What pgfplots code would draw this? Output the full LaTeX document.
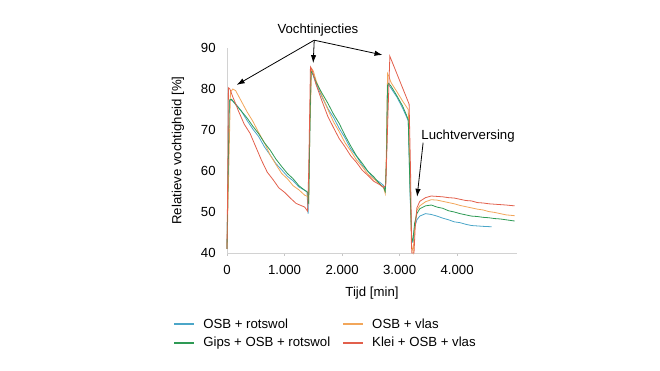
\documentclass[border=0pt]{standalone}
\usepackage{pgfplots}
\pgfplotsset{compat=1.18}
\usepackage{fontspec}
\setmainfont{Liberation Sans}
\usetikzlibrary{arrows.meta}
\definecolor{cblue}{HTML}{4BA6C8}
\definecolor{cgreen}{HTML}{2E9A55}
\definecolor{corange}{HTML}{F2A65A}
\definecolor{cred}{HTML}{E2604C}
\newcommand\lfont{\fontsize{9.9}{11.5}\selectfont}
\begin{document}
\begin{tikzpicture}
\path[use as bounding box] (0,0) rectangle (495pt,278.25pt);
\begin{axis}[
  at={(170.25pt,88.5pt)}, anchor=south west,
  scale only axis, width=217.5pt, height=153.75pt,
  xmin=0, xmax=5040, ymin=40, ymax=90,
  axis x line=bottom, axis y line=left,
  axis line style={gray!35, -},
  xtick={0,1000,2000,3000,4000},
  xticklabels={0,1.000,2.000,3.000,4.000},
  ytick={40,50,60,70,80,90},
  tick align=outside,
  major tick length=2pt,
  xtick style={gray!45},
  ytick style={draw=none},
  /pgf/number format/assume math mode=true,
  tick label style={font=\lfont},
  xticklabel style={yshift=-4pt},
  yticklabel style={xshift=-3pt},
  clip=false,
  legend columns=2,
  legend cell align=left,
  legend style={draw=none, fill=none, inner sep=0pt,
    at={(axis description cs:-0.186,-0.305)}, anchor=north west,
    font=\lfont,
    row sep=1.2pt,
    /tikz/every even column/.append style={column sep=7pt}},
  legend image code/.code={\draw[#1, line width=1.4pt] (0pt,0pt) -- (15pt,0pt); \path (19.5pt,0pt);},
  every axis plot/.append style={line width=0.6pt},
]
% OSB + rotswol
\addplot[cblue] coordinates {
(0,41) (20,60) (40,77.0) (80,77.3) (150,76.4) (250,74.6) (350,72.3) (450,70.2) (550,68.4) (650,65.9) (750,63.9) (850,61.8) (950,60.3) (1050,58.7) (1150,57.6) (1250,56.1) (1350,55.3) (1390,55.0) (1410,49.6) (1440,70) (1460,84.0) (1490,83.6) (1550,81.2) (1650,78.1) (1750,75.3) (1850,73.1) (1950,70.4) (2050,68.1) (2150,65.4) (2250,63.6) (2350,61.4) (2450,59.9) (2550,58.2) (2650,57.3) (2720,56.5) (2750,55.3) (2770,62) (2790,80.6) (2810,81.0) (2850,80.2) (2950,78.1) (3050,75.4) (3120,73.2) (3150,72.2) (3180,55) (3210,43) (3230,42.6) (3260,46.2) (3300,48.1) (3350,49.0) (3450,49.6) (3550,49.4) (3650,49.0) (3750,48.5) (3850,48.1) (3950,47.6) (4050,47.4) (4150,47.0) (4250,46.7) (4350,46.6) (4450,46.5) (4600,46.4)
};
\addlegendentry{OSB + rotswol}
% OSB + vlas
\addplot[corange] coordinates {
(0,41) (30,60) (60,79.2) (100,80.0) (150,79.6) (250,77.0) (350,74.4) (450,72.1) (550,69.4) (650,66.9) (750,63.9) (850,61.6) (950,59.4) (1050,58.1) (1150,56.4) (1250,55.4) (1350,54.1) (1400,53.8) (1420,52.5) (1440,70) (1470,85.0) (1500,84.4) (1550,82.0) (1650,78.4) (1750,75.1) (1850,72.0) (1950,69.6) (2050,66.9) (2150,64.9) (2250,62.7) (2350,61.1) (2450,59.2) (2550,58.1) (2650,56.9) (2720,56.0) (2750,54.5) (2770,65) (2790,83.8) (2810,83.2) (2850,81.6) (2950,79.4) (3050,77.1) (3150,75.0) (3180,60) (3205,42) (3235,40.2) (3265,47) (3300,50.4) (3350,51.5) (3450,52.5) (3550,53.0) (3650,52.9) (3750,52.6) (3850,52.3) (3950,52.0) (4050,51.6) (4150,51.3) (4250,51.0) (4350,50.7) (4450,50.5) (4550,50.1) (4650,49.9) (4750,49.6) (4850,49.3) (5000,49.1)
};
\addlegendentry{OSB + vlas}
% Gips + OSB + rotswol
\addplot[cgreen] coordinates {
(0,41) (20,60) (40,77.3) (80,77.5) (150,76.2) (250,74.6) (350,72.9) (450,70.9) (550,69.1) (650,66.9) (750,65.1) (850,62.9) (950,61.1) (1050,59.4) (1150,58.1) (1250,56.4) (1350,55.3) (1400,54.8) (1420,52) (1440,70) (1460,84.3) (1490,83.8) (1550,81.6) (1650,79.0) (1750,76.6) (1850,73.9) (1950,71.6) (2050,68.7) (2150,66.1) (2250,63.7) (2350,61.9) (2450,59.9) (2550,58.6) (2650,56.9) (2720,56.0) (2750,55.0) (2770,62) (2790,80.9) (2810,81.4) (2850,80.7) (2950,78.4) (3050,75.9) (3120,73.6) (3150,72.5) (3180,56) (3210,43.5) (3230,43.0) (3260,47.2) (3300,49.6) (3350,50.8) (3450,51.5) (3550,51.7) (3650,51.2) (3750,50.9) (3850,50.3) (3950,50.0) (4050,49.6) (4150,49.3) (4250,49.0) (4350,48.9) (4450,48.7) (4550,48.6) (4650,48.4) (4750,48.3) (4850,48.1) (5000,47.8)
};
\addlegendentry{Gips + OSB + rotswol}
% Klei + OSB + vlas
\addplot[cred] coordinates {
(0,41) (15,62) (25,80.3) (50,80.0) (100,78.1) (150,76.4) (200,74.6) (300,71.4) (400,69.2) (500,65.9) (600,62.6) (700,59.7) (800,57.9) (900,55.9) (1000,54.8) (1100,53.4) (1200,52.1) (1300,51.5) (1350,51.2) (1380,50.6) (1400,50.2) (1420,60) (1450,85.4) (1480,84.6) (1550,81.0) (1650,77.1) (1750,73.4) (1850,70.6) (1950,67.9) (2050,65.9) (2150,63.7) (2250,62.1) (2350,60.2) (2450,58.9) (2550,57.5) (2650,56.7) (2720,56.0) (2760,56.5) (2800,75) (2830,88.0) (3165,76.3) (3190,60) (3210,40) (3250,40) (3270,46) (3300,51) (3350,52.6) (3450,53.5) (3550,53.9) (3650,53.8) (3750,53.7) (3850,53.5) (3950,53.4) (4050,53.1) (4150,52.8) (4250,52.7) (4350,52.3) (4450,52.2) (4550,52.0) (4650,51.9) (4750,51.8) (4850,51.7) (5000,51.5)
};
\addlegendentry{Klei + OSB + vlas}
% annotations
\node[font=\lfont] at (axis cs:1580,94.4) {Vochtinjecties};
\draw[-{Latex[length=6pt,width=4pt]}, line width=0.6pt] (axis cs:1516,91.9) -- (axis cs:168,81.0);
\draw[-{Latex[length=6pt,width=4pt]}, line width=0.6pt] (axis cs:1516,91.9) -- (axis cs:1498,86.3);
\draw[-{Latex[length=6pt,width=4pt]}, line width=0.6pt] (axis cs:1516,91.9) -- (axis cs:2703,88.3);
\node[font=\lfont] at (axis cs:4189,68.4) {Luchtverversing};
\draw[-{Latex[length=6pt,width=4pt]}, line width=0.6pt] (axis cs:3408,66.9) -- (axis cs:3304,53.7);
\node[font=\lfont, rotate=90] at (axis description cs:-0.169,0.5) {Relatieve vochtigheid [\%]};
\node[font=\lfont] at (axis description cs:0.5,-0.195) {Tijd [min]};
\end{axis}
\end{tikzpicture}
\end{document}
